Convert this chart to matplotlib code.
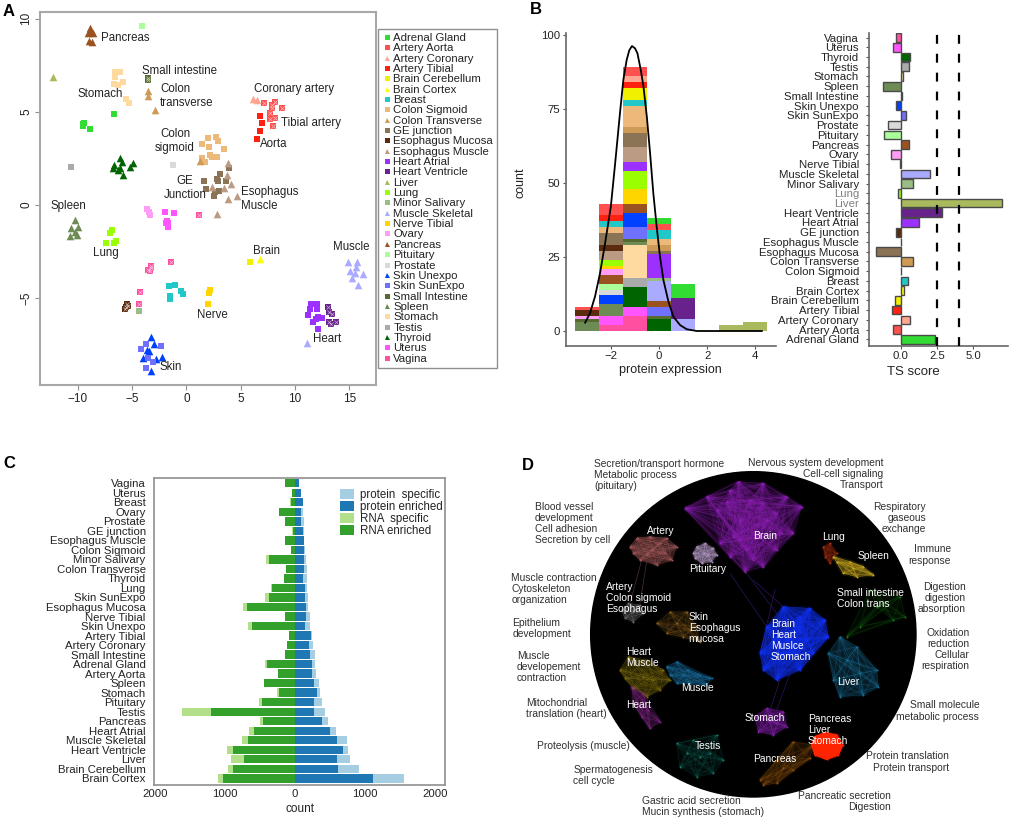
import itertools
import matplotlib
matplotlib.use('Agg')
import matplotlib.pyplot as plt
from matplotlib.collections import LineCollection
from matplotlib.lines import Line2D
from matplotlib.patches import Circle

plt.rcParams['font.family'] = ['Liberation Sans', 'DejaVu Sans']
plt.rcParams['axes.unicode_minus'] = True

W, H = 1011, 822
GRAY = '#8f8f8f'
TXT = '#222222'

# ---------- panel A: tsne coordinates per tissue
adrenal = [(-6.65, 4.9), (-9.5, 4.35), (-9.55, 4.25), (-9.4, 4.4), (-8.9, 4.1)]
artery_aorta = [(7.18, 5.46), (8.16, 5.55), (7.85, 5.37), (7.85, 5.19), (8.77, 5.22), (7.70, 4.92), (8.16, 4.69), (7.70, 4.60), (8.01, 4.24)]
artery_coronary = [(6.15, 5.70), (6.50, 5.65)]
artery_tibial = [(6.75, 4.76), (6.93, 4.42), (6.78, 3.97), (6.53, 3.52)]
brain_cerebellum = [(5.83, -3.04)]
brain_cortex = [(6.78, -2.92)]
breast = [(-1.56, -4.35), (-1.01, -4.28), (-0.52, -4.60), (-0.28, -4.79), (-1.50, -4.88), (-1.50, -5.03)]
colon_sigmoid = [(2.73, 3.67), (1.96, 3.58), (2.88, 3.43), (1.41, 3.27), (2.06, 3.09), (3.47, 3.01), (2.18, 2.68), (2.85, 2.59), (2.33, 2.56), (1.47, 2.50), (1.72, 2.33)]
colon_transverse = [(-3.5, 6.1), (-3.5, 5.85), (-2.9, 5.1), (1.26, 2.36)]
ge_junction = [(3.93, 2.0), (3.10, 1.65), (2.79, 1.40), (2.91, 1.31), (3.65, 1.31), (1.66, 1.27), (1.81, 0.84), (3.01, 0.77), (2.64, 0.72), (2.58, 0.48)]
eso_mucosa = [(-5.49, -5.33), (-5.34, -5.42), (-5.55, -5.49), (-5.64, -5.60)]
eso_muscle = [(3.80, 2.24), (3.71, 1.61), (4.08, 1.11), (2.36, 0.95), (3.47, 0.89), (4.63, 0.48), (3.80, 0.34), (2.79, -0.48)]
heart_atrial = [(11.47, -5.33), (12.06, -5.33), (11.38, -5.60), (11.99, -5.60), (11.23, -5.90), (12.15, -5.99), (12.45, -6.05), (11.93, -6.14), (11.63, -6.28), (12.09, -6.67)]
heart_ventricle = [(13.01, -5.46), (13.16, -5.72), (13.37, -5.87), (13.16, -6.26), (13.28, -6.39), (13.74, -6.26)]
liver = [(-12.3, 6.85)]
lung = [(-6.87, -1.34), (-7.02, -1.52), (-7.39, -2.02), (-6.66, -2.06), (-6.47, -1.93)]
minor_salivary = [(-4.36, -5.69)]
muscle_skeletal = [(14.85, -3.04), (15.67, -3.08), (15.06, -3.52), (15.61, -3.31), (15.52, -3.67), (16.29, -3.70), (15.21, -3.90), (15.80, -4.29), (11.13, -7.39)]
nerve_tibial = [(2.18, -4.56), (2.12, -4.74), (1.99, -5.31)]
ovary = [(-3.65, -0.23), (-3.44, -0.36), (-3.34, -0.54)]
pancreas = [(-8.87, 9.48), (-9.02, 9.21), (-8.62, 9.25), (-8.93, 8.82), (-8.71, 8.77), (-8.87, 9.3)]
pituitary = [(-4.1, 9.6)]
prostate = [(-1.25, 2.15)]
skin_unexpo = [(-3.22, -7.07), (-2.98, -7.48), (-3.65, -7.78), (-3.40, -7.84), (-3.96, -8.19), (-2.82, -8.26), (-2.21, -8.14), (-3.22, -8.89)]
skin_sunexpo = [(-3.74, -7.46), (-2.36, -7.55), (-4.17, -7.75), (-3.50, -8.23), (-3.04, -8.41), (-3.74, -8.77)]
small_intestine = [(-3.55, 6.7), (-3.55, 6.8)]
spleen = [(-10.25, -0.80), (-9.94, -1.20), (-10.64, -1.25), (-10.25, -1.43), (-10.71, -1.66), (-10.03, -1.61)]
stomach = [(-6.55, 7.15), (-6.1, 7.15), (-6.55, 6.85), (-6.65, 6.5), (-6.25, 6.45), (-5.8, 6.6), (-5.55, 5.7), (-5.3, 5.5)]
testis = [(-10.65, 2.05)]
thyroid = [(-6.10, 2.50), (-5.95, 2.33), (-6.66, 2.15), (-6.78, 1.97), (-6.10, 1.97), (-5.18, 2.06), (-4.88, 2.27), (-5.86, 1.61), (-6.26, 1.88)]
uterus = [(-1.96, -0.39), (-1.13, -0.41), (-1.81, -0.84), (-1.87, -0.98), (-1.66, -0.98), (-1.72, -1.20)]
vagina = [(1.20, -0.54), (-1.44, -3.04), (-3.28, -3.27), (-3.28, -3.40), (-3.56, -3.49), (-3.34, -3.52), (-4.26, -4.69), (-4.36, -5.33)]

tissues = ['Adrenal Gland', 'Artery Aorta', 'Artery Coronary', 'Artery Tibial', 'Brain Cerebellum', 'Brain Cortex',
           'Breast', 'Colon Sigmoid', 'Colon Transverse', 'GE junction', 'Esophagus Mucosa', 'Esophagus Muscle',
           'Heart Atrial', 'Heart Ventricle', 'Liver', 'Lung', 'Minor Salivary', 'Muscle Skeletal', 'Nerve Tibial',
           'Ovary', 'Pancreas', 'Pituitary', 'Prostate', 'Skin Unexpo', 'Skin SunExpo', 'Small Intestine', 'Spleen',
           'Stomach', 'Testis', 'Thyroid', 'Uterus', 'Vagina']
tsne_points = [adrenal, artery_aorta, artery_coronary, artery_tibial, brain_cerebellum, brain_cortex, breast,
               colon_sigmoid, colon_transverse, ge_junction, eso_mucosa, eso_muscle, heart_atrial, heart_ventricle,
               liver, lung, minor_salivary, muscle_skeletal, nerve_tibial, ovary, pancreas, pituitary, prostate,
               skin_unexpo, skin_sunexpo, small_intestine, spleen, stomach, testis, thyroid, uterus, vagina]
colors = dict(zip(tissues, [
    '#32DC32', '#FF5050', '#FFA590', '#FF2010', '#F0F000', '#FFFF00', '#22C8C8', '#EDB97A', '#CD9B55', '#8B7355',
    '#5C2A0C', '#BC9B85', '#9B30FF', '#68228B', '#A9BA5E', '#9AFF00', '#9ABD85', '#AAAAFF', '#FFD500', '#FF9CF5',
    '#9A5220', '#AAFF9A', '#D9D9D9', '#0040FF', '#7070FF', '#556B2F', '#6E8B55', '#FFDAA0', '#AAAAAA', '#006400',
    '#FF55FF', '#FF4FA0']))
triangles = ['Artery Coronary', 'Brain Cortex', 'Colon Transverse', 'Esophagus Muscle', 'Liver', 'Muscle Skeletal',
             'Pancreas', 'Skin Unexpo', 'Spleen', 'Thyroid']
crossed = ['Artery Aorta', 'Heart Ventricle', 'Small Intestine', 'Vagina', 'Esophagus Mucosa']

# ---------- panel B left: histogram, counts per tissue per bin (bottom to top)
bin_left = [-3.5, -2.5, -1.5, -0.5, 0.5, 2.5, 3.5]
bin_m3 = [('Spleen', 3), ('Small Intestine', 1), ('Ovary', 1), ('Esophagus Mucosa', 2), ('Artery Aorta', 1)]
bin_m2 = [('Vagina', 2), ('Uterus', 3), ('Spleen', 4), ('Skin Unexpo', 3), ('Prostate', 2), ('Pituitary', 2),
          ('Pancreas', 3), ('Ovary', 2), ('Nerve Tibial', 1), ('Lung', 2), ('Esophagus Muscle', 3),
          ('Esophagus Mucosa', 2), ('GE junction', 4), ('Colon Sigmoid', 2), ('Breast', 2), ('Artery Tibial', 2),
          ('Artery Aorta', 4)]
bin_m1 = [('Vagina', 5), ('Uterus', 3), ('Thyroid', 7), ('Testis', 3), ('Stomach', 11), ('Spleen', 1),
          ('Small Intestine', 1), ('Skin SunExpo', 4), ('Skin Unexpo', 5), ('Pancreas', 3), ('Nerve Tibial', 5),
          ('Lung', 6), ('Heart Atrial', 3), ('Esophagus Muscle', 5), ('GE junction', 5), ('Colon Transverse', 2),
          ('Colon Sigmoid', 7), ('Breast', 2), ('Brain Cerebellum', 4), ('Artery Tibial', 2), ('Artery Coronary', 2),
          ('Artery Aorta', 3)]
bin_0 = [('Thyroid', 4), ('Small Intestine', 1), ('Skin SunExpo', 3), ('Pancreas', 2), ('Muscle Skeletal', 7),
         ('Minor Salivary', 1), ('Heart Atrial', 8), ('GE junction', 1), ('Colon Transverse', 2), ('Colon Sigmoid', 2),
         ('Breast', 3), ('Artery Aorta', 2), ('Adrenal Gland', 2)]
bin_1 = [('Muscle Skeletal', 4), ('Heart Ventricle', 7), ('Adrenal Gland', 5)]
bin_3 = [('Liver', 2)]
bin_4 = [('Liver', 3)]
hist_bins = [bin_m3, bin_m2, bin_m1, bin_0, bin_1, bin_3, bin_4]

curve_x = [-3.08, -2.88, -2.67, -2.46, -2.25, -2.01, -1.83, -1.63, -1.49, -1.35, -1.24, -1.13, -1.0, -0.9, -0.76,
           -0.65, -0.51, -0.375, -0.24, -0.1, 0.04, 0.18, 0.39, 0.6, 0.875, 1.15, 1.57, 2.5, 4.28]
curve_y = [2.8, 6, 11.6, 19.5, 29.6, 42, 56.6, 73.5, 84.7, 91.5, 94.8, 96.2, 95.4, 93.7, 88,
           82.5, 72.3, 60, 46.5, 35.2, 25, 17.2, 9.9, 4.8, 2, 0.6, 0, 0, 0]

# ---------- panel B right: TS score
ts_names = ['Adrenal Gland', 'Artery Aorta', 'Artery Coronary', 'Artery Tibial', 'Brain Cerebellum', 'Brain Cortex',
            'Breast', 'Colon Sigmoid', 'Colon Transverse', 'Esophagus Mucosa', 'Esophagus Muscle', 'GE junction',
            'Heart Atrial', 'Heart Ventricle', 'Liver', 'Lung', 'Minor Salivary', 'Muscle Skeletal', 'Nerve Tibial',
            'Ovary', 'Pancreas', 'Pituitary', 'Prostate', 'Skin SunExpo', 'Skin Unexpo', 'Small Intestine', 'Spleen',
            'Stomach', 'Testis', 'Thyroid', 'Uterus', 'Vagina']
ts_score = [2.37, -0.5, 0.62, -0.6, -0.41, 0.2, 0.53, 0.0, 0.87, -1.72, 0.05, -0.32, 1.26, 2.83, 6.97, -0.18, 0.85,
            2.0, -0.04, -0.65, 0.55, -1.13, -0.9, 0.4, -0.35, 0.08, -1.25, 0.18, 0.58, 0.65, -0.55, -0.35]
ts_cutoffs = [2.5, 4.0]

# ---------- panel C: counts per tissue
c_names = ['Brain Cortex', 'Brain Cerebellum', 'Liver', 'Heart Ventricle', 'Muscle Skeletal', 'Heart Atrial', 'Pancreas',
           'Testis', 'Pituitary', 'Stomach', 'Spleen', 'Artery Aorta', 'Adrenal Gland', 'Small Intestine',
           'Artery Coronary', 'Artery Tibial', 'Skin Unexpo', 'Nerve Tibial', 'Esophagus Mucosa', 'Skin SunExpo', 'Lung',
           'Thyroid', 'Colon Transverse', 'Minor Salivary', 'Colon Sigmoid', 'Esophagus Muscle', 'GE junction',
           'Prostate', 'Ovary', 'Breast', 'Uterus', 'Vagina']
protein_enriched = [1114, 610, 595, 686, 595, 500, 386, 276, 276, 310, 267, 248, 248, 210, 205, 229, 148, 162, 152, 138,
                    138, 119, 124, 129, 133, 133, 119, 86, 90, 110, 86, 62]
protein_specific = [448, 310, 186, 71, 143, 81, 90, 152, 105, 43, 81, 48, 38, 71, 52, 10, 67, 48, 38, 48, 38, 52, 43, 24,
                    10, 0, 5, 38, 29, 0, 0, 0]
rna_enriched = [1024, 886, 733, 886, 667, 581, 452, 1205, 476, 224, 438, 238, 405, 143, 114, 81, 610, 138, 681, 376, 333,
                152, 133, 376, 62, 148, 33, 138, 229, 62, 43, 138]
rna_specific = [71, 76, 176, 86, 86, 81, 48, 405, 38, 29, 10, 5, 24, 5, 5, 5, 62, 5, 67, 57, 14, 5, 0, 38, 0, 0, 5, 5, 5,
                5, 5, 10]

# ---------- panel D: network modules, node layout (circle centre 760,583 radius 488)
# the first nodes of each module trace its outline, the rest sit inside
net_brain = [(555, 205), (620, 170), (690, 150), (715, 125), (790, 130), (860, 170), (905, 200), (880, 280), (830, 330),
             (790, 380), (735, 395), (690, 350), (660, 310), (720, 240), (770, 290), (740, 330), (800, 240), (650, 210),
             (750, 180), (830, 220), (700, 290), (760, 360), (680, 185), (845, 280), (790, 190), (720, 300)]
net_artery = [(390, 320), (410, 295), (450, 290), (500, 295), (530, 320), (515, 360), (470, 375), (420, 360), (400, 340),
              (455, 330), (480, 310), (440, 345), (495, 340)]
net_pituitary = [(580, 340), (590, 320), (615, 310), (640, 325), (650, 345), (635, 365), (605, 370), (585, 355), (612, 340),
                 (625, 345)]
net_esophagus = [(365, 510), (385, 490), (420, 495), (430, 520), (400, 545), (375, 535), (400, 515)]
net_skin = [(470, 550), (510, 515), (560, 515), (590, 560), (600, 605), (550, 590), (500, 580), (530, 550), (570, 570)]
net_heart_muscle = [(360, 690), (385, 650), (440, 660), (490, 690), (510, 720), (480, 750), (440, 770), (400, 745),
                    (375, 715), (430, 710), (460, 720)]
net_muscle = [(500, 680), (530, 665), (565, 690), (600, 705), (635, 715), (620, 735), (570, 730), (530, 730), (510, 705),
              (550, 705)]
net_heart = [(395, 740), (430, 760), (445, 810), (480, 845), (450, 865), (425, 830), (400, 790)]
net_testis = [(530, 910), (580, 900), (650, 885), (670, 960), (640, 1000), (590, 1010), (540, 980), (600, 950), (560, 940),
              (630, 940)]
net_stomach = [(765, 830), (800, 805), (850, 815), (860, 860), (820, 885), (775, 875), (810, 840), (830, 850)]
net_pancreas = [(780, 1020), (830, 960), (880, 905), (940, 915), (930, 955), (880, 990), (830, 1030), (790, 1035), (850, 985)]
net_blue = [(780, 640), (800, 560), (850, 500), (930, 505), (975, 540), (985, 590), (940, 640), (900, 690), (830, 720),
            (790, 690), (860, 600), (900, 560), (920, 600), (840, 650), (880, 640), (900, 530), (820, 600)]
net_liver = [(985, 640), (1020, 590), (1070, 620), (1130, 690), (1135, 740), (1090, 765), (1020, 770), (1000, 720),
             (1040, 660), (1080, 700)]
net_intestine = [(1040, 590), (1110, 450), (1200, 470), (1215, 530), (1180, 540), (1130, 500), (1080, 560), (1150, 490)]
net_lung = [(970, 320), (990, 310), (1010, 340), (990, 370), (975, 350)]
net_spleen = [(1010, 365), (1050, 365), (1090, 380), (1120, 405), (1070, 410), (1030, 400), (1000, 350), (1060, 385)]
net_red = [(935, 915), (945, 890), (975, 878), (1010, 885), (1028, 915), (1015, 945), (980, 958), (945, 945)]
modules = [net_brain, net_artery, net_pituitary, net_esophagus, net_skin, net_heart_muscle, net_muscle, net_heart,
           net_testis, net_stomach, net_pancreas, net_blue, net_liver, net_intestine, net_lung, net_spleen, net_red]
module_colors = ['#8A20B0', '#A05858', '#A890B8', '#707070', '#8A6020', '#7A6A10', '#1A6A98', '#8A2A90', '#1A7A70',
                 '#8020A8', '#8A5010', '#1030F0', '#1A7098', '#1A7A1A', '#B03010', '#C8A820', '#FF2400']
module_outline = [13, 9, 8, 6, 7, 9, 9, 7, 7, 6, 8, 10, 8, 6, 5, 6, 8]
module_fill = [0.28, 0.45, 0.6, 0.45, 0.25, 0.45, 0.5, 0.5, 0.1, 0.7, 0.35, 0.85, 0.4, 0.12, 0.6, 0.6, 1.0]
net_bridges = [((690, 400), (800, 560)), ((760, 420), (850, 500)), ((825, 450), (780, 640)), ((740, 400), (830, 520)),
               ((840, 720), (810, 810)), ((870, 700), (830, 810)), ((440, 365), (420, 490)), ((425, 360), (390, 490))]
bridge_colors = ['#5020A0', '#5020A0', '#5020A0', '#5020A0', '#5020A0', '#5020A0', '#805060', '#805060']

d_dark = [('Secretion/transport hormone\nMetabolic process\n(pituitary)', 282, 104, 'left'),
          ('Nervous system development\nCell-cell signaling\nTransport', 1150, 102, 'right'),
          ('Blood vessel\ndevelopment\nCell adhesion\nSecretion by cell', 104, 251, 'left'),
          ('Respiratory\ngaseous\nexchange', 1278, 233, 'right'),
          ('Immune\nresponse', 1353, 345, 'right'),
          ('Muscle contraction\nCytoskeleton\norganization', 34, 447, 'left'),
          ('Digestion\ndigestion\nabsorption', 1398, 473, 'right'),
          ('Epithelium\ndevelopment', 37, 566, 'left'),
          ('Oxidation\nreduction\nCellular\nrespiration', 1408, 628, 'right'),
          ('Muscle\ndevelopement\ncontraction', 51, 680, 'left'),
          ('Mitochondrial\ntranslation (heart)', 77, 806, 'left'),
          ('Small molecule\nmetabolic process', 1438, 813, 'right'),
          ('Proteolysis (muscle)', 112, 918, 'left'),
          ('Spermatogenesis\ncell cycle', 220, 1006, 'left'),
          ('Protein translation\nProtein transport', 1346, 966, 'right'),
          ('Gastric acid secretion\nMucin synthesis (stomach)', 427, 1100, 'left'),
          ('Pancreatic secretion\nDigestion', 1172, 1085, 'right')]
d_white = [('Artery', 440, 273), ('Brain', 760, 289), ('Lung', 967, 290), ('Spleen', 1072, 347), ('Pituitary', 566, 388),
           ('Artery\nColon sigmoid\nEsophagus', 319, 473), ('Small intestine\nColon trans', 1010, 476),
           ('Skin\nEsophagus\nmucosa', 566, 563), ('Brain\nHeart\nMuslce\nStomach', 813, 602), ('Heart\nMuscle', 378, 653),
           ('Muscle', 544, 745), ('Liver', 1010, 725), ('Heart', 378, 795), ('Stomach', 735, 833),
           ('Pancreas\nLiver\nStomach', 923, 870), ('Testis', 584, 918), ('Pancreas', 760, 957)]

# panel A captions, in pixels
a_labels = [('Pancreas', 100.5, 38, 'left'), ('Small intestine', 141.5, 71, 'left'), ('Colon\ntransverse', 160, 96, 'left'),
            ('Stomach', 77.5, 94, 'left'), ('Coronary artery', 253.5, 89, 'left'), ('Tibial artery', 281, 123, 'left'),
            ('Aorta', 260, 144, 'left'), ('Colon\nsigmoid', 175, 141, 'center'), ('GE\nJunction', 185, 188, 'center'),
            ('Esophagus\nMuscle', 241, 199, 'left'), ('Spleen', 50.5, 206, 'left'), ('Lung', 92.5, 253, 'left'),
            ('Brain', 253.5, 251, 'left'), ('Muscle', 333.5, 247, 'left'), ('Nerve', 197.5, 315, 'left'),
            ('Heart', 313.5, 339, 'left'), ('Skin', 160, 367, 'left')]


def add_axes(fig, left, top, right, bottom):
    # pixel box to figure fraction
    return fig.add_axes([left / W, 1 - bottom / H, (right - left) / W, (bottom - top) / H])


fig = plt.figure(figsize=(W / 100, H / 100), dpi=100)

# panel A
ax = add_axes(fig, 40, 12, 376, 385)
for name, pts in zip(tissues, tsne_points):
    xs = [p[0] for p in pts]
    ys = [p[1] for p in pts]
    if name in triangles:
        ax.scatter(xs, ys, marker='^', s=30, c=colors[name], linewidths=0, zorder=3)
    else:
        ax.scatter(xs, ys, marker='s', s=20, c=colors[name], linewidths=0, zorder=3)
    if name in crossed:
        ax.scatter(xs, ys, marker='x', s=9, c='#FFFFFF', linewidths=0.5, alpha=0.6, zorder=4)
ax.set_xlim(-13.47, 17.45)
ax.set_ylim(-9.66, 10.36)
ax.set_xticks([-10, -5, 0, 5, 10, 15])
ax.set_yticks([-5, 0, 5, 10])
ax.tick_params(colors=TXT, labelsize=8.5, length=3.5, color=GRAY, pad=2)
ax.set_xticklabels(['\u221210', '\u22125', '0', '5', '10', '15'])
plt.setp(ax.get_yticklabels(), rotation=90, va='center')
for s in ax.spines.values():
    s.set_color('#a8a8a8')
    s.set_linewidth(1.5)

handles = []
for name in tissues:
    mk = '^' if name in triangles else 's'
    handles.append(Line2D([], [], linestyle='none', marker=mk, markersize=3.6, color=colors[name], markeredgewidth=0))
leg = fig.legend(handles, tissues, loc='upper left', bbox_to_anchor=(378 / W, 1 - 29 / H), fontsize=8.2, frameon=True,
                 fancybox=False, edgecolor=GRAY, framealpha=1, labelspacing=0.03, borderaxespad=0, handletextpad=0.2,
                 handlelength=0.8, borderpad=0.35)
leg.get_frame().set_linewidth(1.0)
for t in leg.get_texts():
    t.set_color(TXT)

# panel B, histogram
ax = add_axes(fig, 565.7, 33, 776, 345.7)
for left, parts in zip(bin_left, hist_bins):
    base = 0
    for name, n in parts:
        ax.bar(left, n, width=1.0, bottom=base, align='edge', color=colors[name], linewidth=0)
        base += n
ax.plot(curve_x, curve_y, color='black', lw=1.3, zorder=5)
ax.set_xlim(-3.89, 4.87)
ax.set_ylim(-4.96, 100.6)
ax.set_xticks([-2, 0, 2, 4])
ax.set_xticklabels(['\u22122', '0', '2', '4'])
ax.set_yticks([0, 25, 50, 75, 100])
ax.tick_params(labelsize=8.2, length=2.5, color='#555555', labelcolor=TXT, pad=1.5, width=0.8)
ax.set_xlabel('protein expression', fontsize=9, color=TXT, labelpad=2)
for s in ['top', 'right']:
    ax.spines[s].set_visible(False)
for s in ['left', 'bottom']:
    ax.spines[s].set_color('#666666')
    ax.spines[s].set_linewidth(1.2)

# panel B, TS score
ax = add_axes(fig, 869.3, 32.7, 1008, 345.7)
ts_pos = list(range(len(ts_names)))
# GE junction and mucosa swap shades in this panel
ts_colors = [colors[n] for n in ts_names]
ts_colors[ts_names.index('Esophagus Mucosa')] = colors['GE junction']
ts_colors[ts_names.index('GE junction')] = colors['Esophagus Mucosa']
ax.barh(ts_pos, ts_score, height=0.88, color=ts_colors, edgecolor='#4a4a4a', linewidth=1.0)
for c in ts_cutoffs:
    ax.axvline(c, color='black', lw=1.6, dashes=(4, 4.5), zorder=5)
ax.set_xlim(-2.16, 7.4)
ax.set_ylim(-0.66, 31.5)
ax.set_yticks(ts_pos)
ax.set_yticklabels(ts_names)
ax.set_xticks([0, 2.5, 5])
ax.set_xticklabels(['0.0', '2.5', '5.0'])
ax.tick_params(labelsize=8.2, length=2.5, color='#555555', labelcolor=TXT, pad=1.5, width=0.8)
ax.tick_params(axis='y', pad=5)
for lab in ax.get_yticklabels():
    if lab.get_text() in ('Lung', 'Liver'):
        lab.set_color('#808080')
ax.set_xlabel('TS score', fontsize=9.5, color=TXT, labelpad=6)
ax.xaxis.set_label_coords((913 - 869.3) / (1008 - 869.3), -0.065)
for s in ['top', 'right']:
    ax.spines[s].set_visible(False)
for s in ['left', 'bottom']:
    ax.spines[s].set_color('#666666')
    ax.spines[s].set_linewidth(1.2)

# panel C
ax = add_axes(fig, 154, 478, 445, 785)
c_pos = list(range(len(c_names)))
pe_total = [a + b for a, b in zip(protein_enriched, protein_specific)]
re_total = [a + b for a, b in zip(rna_enriched, rna_specific)]
ax.barh(c_pos, pe_total, height=0.88, color='#A6CEE3', label='protein  specific')
ax.barh(c_pos, protein_enriched, height=0.88, color='#1F78B4', label='protein enriched')
ax.barh(c_pos, [-v for v in re_total], height=0.88, color='#B2DF8A', label='RNA  specific')
ax.barh(c_pos, [-v for v in rna_enriched], height=0.88, color='#33A02C', label='RNA enriched')
ax.set_xlim(-2014, 2143)
ax.set_ylim(-0.7, 31.55)
ax.set_yticks(c_pos)
ax.set_yticklabels(c_names)
ax.set_xticks([-2000, -1000, 0, 1000, 2000])
ax.set_xticklabels(['2000', '1000', '0', '1000', '2000'])
ax.tick_params(labelsize=8.2, length=0, labelcolor=TXT, pad=3)
ax.tick_params(axis='y', pad=6)
ax.set_xlabel('count', fontsize=8.5, color=TXT, labelpad=3)
for s in ax.spines.values():
    s.set_color(GRAY)
    s.set_linewidth(1.2)
ax.legend(loc='upper left', bbox_to_anchor=((340 - 154) / 291, 1 - 11 / 307), frameon=False, fontsize=8.3,
          labelspacing=0.0, borderaxespad=0, borderpad=0, handlelength=1.2, handleheight=0.95, handletextpad=0.5,
          labelcolor=TXT)

# panel D, drawn in the layout coordinates of the network
ax = fig.add_axes([500 / W, 1 - 820 / H, 510 / W, 380 / H])
ax.set_xlim(0, 1530)
ax.set_ylim(1140, 0)
ax.axis('off')
disc = Circle((760, 583), 488, color='black', zorder=1)
ax.add_patch(disc)
for (p, q), col in zip(net_bridges, bridge_colors):
    ax.plot([p[0], q[0]], [p[1], q[1]], color=col, lw=0.5, alpha=0.6, zorder=2)
for nodes, col, fill, n_out in zip(modules, module_colors, module_fill, module_outline):
    edges = list(itertools.combinations(nodes, 2))
    # soft glow first, then hairlines, to read as a dense cloud of edges
    ax.add_collection(LineCollection(edges, colors=col, linewidths=3.0, alpha=0.07 * (0.4 + fill), zorder=2))
    ax.add_collection(LineCollection(edges, colors=col, linewidths=0.25, alpha=min(1, fill + 0.3), zorder=2))
    ax.fill([n[0] for n in nodes[:n_out]], [n[1] for n in nodes[:n_out]], color=col, alpha=fill * 0.55, lw=0, zorder=2)
    ax.scatter([n[0] for n in nodes], [n[1] for n in nodes], s=2.0, c=col, linewidths=0, zorder=3)
ax.fill([n[0] for n in net_red], [n[1] for n in net_red], color='#FF2400', zorder=3)
for txt, x, y, ha in d_dark:
    ax.text(x, y, txt, ha=ha, va='center', fontsize=7.4, color='#303030', linespacing=1.13, zorder=6)
for txt, x, y in d_white:
    ax.text(x, y, txt, ha='left', va='center', fontsize=7.4, color='white', linespacing=1.13, zorder=6)

# overlay for captions and panel letters
lab = fig.add_axes([0, 0, 1, 1], facecolor='none')
lab.set_xlim(0, W)
lab.set_ylim(H, 0)
lab.axis('off')
for txt, x, y, ha in a_labels:
    lab.text(x, y, txt, ha=ha, va='center', fontsize=8.3, color=TXT, linespacing=1.15)
lab.text(520, 183, 'count', rotation=90, ha='center', va='center', fontsize=9, color=TXT)
for letter, x, y in [('A', 9, 11), ('B', 536, 10), ('C', 9, 463), ('D', 528, 465)]:
    lab.text(x, y, letter, ha='center', va='center', fontsize=12, fontweight='bold', color='black')

fig.savefig('out.png', dpi=100)
